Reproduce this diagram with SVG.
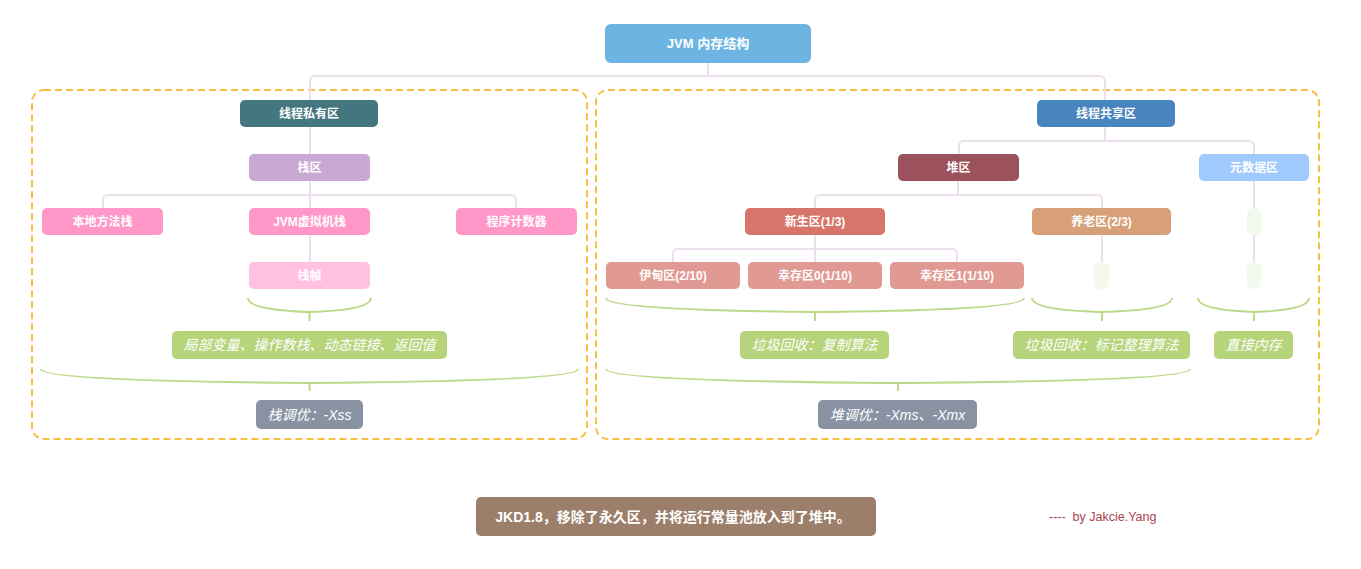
<svg xmlns="http://www.w3.org/2000/svg" width="1361" height="569" viewBox="0 0 1361 569">
<style>
.bg{fill:#ffffff}
.area{fill:none;stroke:#f9bf45;stroke-width:2;stroke-dasharray:7 4}
.conn{fill:none;stroke:#ede0ee;stroke-width:2}
.brace{fill:none;stroke:#bcd98a;stroke-width:2}
.lbl{fill:#ffffff;font-family:"Liberation Sans","Noto Sans CJK SC",sans-serif;font-weight:bold;font-size:12px;text-anchor:middle;dominant-baseline:central}
.big{font-size:13px}
.note{font-size:14px}
.it{fill:#ffffff;font-family:"Liberation Sans","Noto Sans CJK SC",sans-serif;font-style:italic;font-size:14px;text-anchor:middle;dominant-baseline:central}
.green{fill:#b6d47a}
.grey{fill:#8892a3}
.pink{fill:#ff97c9}
.sal{fill:#e19a93}
.tiny{fill:#f3f8ec}
.author{fill:#a8464f;font-family:"Liberation Sans",sans-serif;font-size:12.5px}
</style>
<rect class="bg" x="0" y="0" width="1361" height="569"/>
<rect class="area" x="32" y="90" width="555" height="349" rx="12"/>
<rect class="area" x="596" y="90" width="723" height="349" rx="12"/>
<g id="connectors">
<path class="conn" d="M708,63 V76"/>
<path class="conn" d="M310,262 V81 Q310,76 315,76 H1100 Q1105,76 1105,81 V141"/>
<path class="conn" d="M103,208 V200 Q103,195 108,195 H511 Q516,195 516,200 V208"/>
<path class="conn" d="M959,154 V146 Q959,141 964,141 H1249 Q1254,141 1254,146 V262"/>
<path class="conn" d="M958,181 V195"/>
<path class="conn" d="M815,262 V200 Q815,195 820,195 H1097 Q1102,195 1102,200 V262"/>
<path class="conn" d="M673,262 V254 Q673,249 678,249 H952 Q957,249 957,254 V262"/>
<path class="brace" d="M248,298 Q248,310 309.5,312 Q371,310 371,298 M309.5,312 V321"/>
<path class="brace" d="M41,369 Q41,381 309.5,383 Q578,381 578,369 M309.5,383 V391"/>
<path class="brace" d="M606,298 Q606,310 815,312 Q1024,310 1024,298 M815,312 V321"/>
<path class="brace" d="M1032,298 Q1032,310 1102,312 Q1172,310 1172,298 M1102,312 V321"/>
<path class="brace" d="M1198,298 Q1198,310 1254,312 Q1309,310 1309,298 M1254,312 V321"/>
<path class="brace" d="M606,369 Q606,381 898,383 Q1190,381 1190,369 M898,383 V391"/>
</g>
<g id="root"><rect x="605" y="24" width="206" height="39" rx="6" fill="#6cb4e1"/><text class="lbl big" x="708" y="43.5">JVM 内存结构</text></g>
<g id="private"><rect x="240" y="100" width="138" height="27" rx="5" fill="#44767f"/><text class="lbl" x="309" y="113.5">线程私有区</text></g>
<g id="stack"><rect x="249" y="154" width="121" height="27" rx="5" fill="#c9a9d4"/><text class="lbl" x="309.5" y="167.5">栈区</text></g>
<g id="native"><rect class="pink" x="42" y="208" width="121" height="27" rx="5"/><text class="lbl" x="102.5" y="221.5">本地方法栈</text></g>
<g id="jvmstack"><rect class="pink" x="249" y="208" width="121" height="27" rx="5"/><text class="lbl" x="309.5" y="221.5">JVM虚拟机栈</text></g>
<g id="pc"><rect class="pink" x="456" y="208" width="121" height="27" rx="5"/><text class="lbl" x="516.5" y="221.5">程序计数器</text></g>
<g id="frame"><rect x="249" y="262" width="121" height="27" rx="5" fill="#ffc1df"/><text class="lbl" x="309.5" y="275.5">栈帧</text></g>
<g id="local"><rect class="green" x="172" y="331" width="275" height="28" rx="5"/><text class="it" x="309.5" y="345">局部变量、操作数栈、动态链接、返回值</text></g>
<g id="xss"><rect class="grey" x="256" y="400" width="107" height="29" rx="5"/><text class="it" x="309.5" y="414.5">栈调优：-Xss</text></g>
<g id="shared"><rect x="1037" y="100" width="138" height="27" rx="5" fill="#4884bd"/><text class="lbl" x="1106" y="113.5">线程共享区</text></g>
<g id="heap"><rect x="898" y="154" width="121" height="27" rx="5" fill="#9b525c"/><text class="lbl" x="958.5" y="167.5">堆区</text></g>
<g id="meta"><rect x="1199" y="154" width="110" height="27" rx="5" fill="#a0cafd"/><text class="lbl" x="1254" y="167.5">元数据区</text></g>
<g id="young"><rect x="745" y="208" width="140" height="27" rx="5" fill="#d8756a"/><text class="lbl" x="815" y="221.5">新生区(1/3)</text></g>
<g id="old"><rect x="1032" y="208" width="139" height="27" rx="5" fill="#d7a078"/><text class="lbl" x="1101.5" y="221.5">养老区(2/3)</text></g>
<g id="eden"><rect class="sal" x="606" y="262" width="134" height="27" rx="5"/><text class="lbl" x="673" y="275.5">伊甸区(2/10)</text></g>
<g id="s0"><rect class="sal" x="748" y="262" width="134" height="27" rx="5"/><text class="lbl" x="815" y="275.5">幸存区0(1/10)</text></g>
<g id="s1"><rect class="sal" x="890" y="262" width="134" height="27" rx="5"/><text class="lbl" x="957" y="275.5">幸存区1(1/10)</text></g>
<g id="old-child"><rect class="tiny" x="1094" y="262" width="15" height="27" rx="6"/></g>
<g id="meta-child1"><rect class="tiny" x="1247" y="208" width="14" height="27" rx="6"/></g>
<g id="meta-child2"><rect class="tiny" x="1247" y="262" width="14" height="27" rx="6"/></g>
<g id="copy"><rect class="green" x="740" y="331" width="149" height="28" rx="5"/><text class="it" x="814.5" y="345">垃圾回收：复制算法</text></g>
<g id="mark"><rect class="green" x="1013" y="331" width="177" height="28" rx="5"/><text class="it" x="1101.5" y="345">垃圾回收：标记整理算法</text></g>
<g id="direct"><rect class="green" x="1214" y="331" width="79" height="28" rx="5"/><text class="it" x="1253.5" y="345">直接内存</text></g>
<g id="heaptune"><rect class="grey" x="818" y="400" width="159" height="29" rx="5"/><text class="it" x="897.5" y="414.5">堆调优：-Xms、-Xmx</text></g>
<g id="note"><rect x="476" y="497" width="400" height="39" rx="5" fill="#9b7f6a"/><text class="lbl note" x="673" y="516.5">JKD1.8，移除了永久区，并将运行常量池放入到了堆中。</text></g>
<g id="author"><text class="author" x="1049" y="521" xml:space="preserve">----  by Jakcie.Yang</text></g>
</svg>
